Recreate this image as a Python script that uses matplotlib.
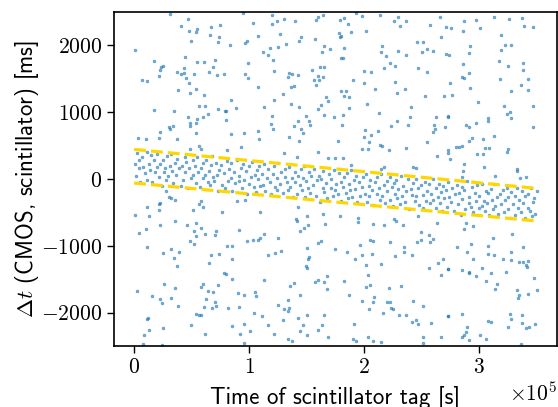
import matplotlib
matplotlib.use("Agg")
import matplotlib.pyplot as plt
from matplotlib.ticker import MultipleLocator
import numpy as np

plt.rcParams['font.family'] = 'serif'
plt.rcParams['font.serif'] = ['cmr10']
plt.rcParams['mathtext.fontset'] = 'cm'
plt.rcParams['axes.formatter.use_mathtext'] = True
plt.rcParams['font.size'] = 15.5

# time of scintillator tag in units of 1000 s, delta t in ms
# background (uncorrelated) tags, read region by region
bg1_t = [31.4, 46.7, 40.6, 54.6, 47.3, 53.7, 66.8, 75.0, 65.9, 73.8, 72.9, 49.1, 0.5, 44.1, 17.1, 24.9,
         23.2, 22.3, 21.5, 54.6, 61.0, 70.3, 68.3, 43.3, 37.5, 40.4, 43.3, 52.0, 65.0, 72.0, 78.1, 44.7,
         47.6, 7.2, 11.0, 38.4, 48.8, 53.7, 61.0, 56.3, 61.5, 72.9, 79.0, 17.7, 34.5, 46.5, 54.9, 60.2,
         64.5, 53.4, 48.5, 48.5, 33.4, 29.9, 30.8, 22.7, 53.4, 3.5, 10.1, 21.5, 37.5, 56.1, 58.1, 48.5]
bg1_dt = [2470, 2395, 2290, 2250, 2210, 2200, 2280, 2300, 2160, 2120, 2050, 2070, 1930, 1826, 1771, 1696,
          1671, 1632, 1546, 1746, 1756, 1776, 1681, 1666, 1596, 1572, 1587, 1572, 1602, 1557, 1566, 1516,
          1431, 1486, 1467, 1337, 1292, 1347, 1257, 1097, 1097, 1048, 1022, 1033, 1018, 928, 898, 928,
          967, 843, 838, 793, 793, 778, 743, 698, 683, 614, 593, 614, 599, 488, 449, 449]

bg2_t = [94.7, 120.0, 129.9, 124.3, 119.7, 140.0, 102.9, 160.1, 164.4, 158.3, 108.1, 126.7, 144.7, 143.0,
         157.4, 96.2, 98.2, 83.7, 118.2, 125.2, 132.2, 164.8, 111.6, 116.5, 163.3, 170.5, 120.6, 99.0,
         161.3, 165.0, 154.8, 121.2, 134.5, 137.4, 133.6, 142.6, 159.8, 96.8, 99.4, 160.9, 156.1, 163.9,
         136.3, 138.9, 158.3, 108.1, 129.6, 166.8, 168.5, 84.6, 121.7, 88.6, 112.5, 136.5, 143.0, 162.7,
         160.1, 79.6, 165.0, 120.0, 174.0, 149.6, 79.9, 142.6, 152.0, 152.8, 118.8, 120.6, 138.6, 144.7,
         146.7, 108.1, 84.6, 95.5, 108.6, 134.8, 143.0, 160.1, 92.9, 129.9, 141.8, 168.8, 174.4, 80.7]
bg2_dt = [2485, 2449, 2395, 2370, 2314, 2370, 2340, 2419, 2455, 2385, 2141, 2171, 2130, 2066,
          2096, 2036, 2060, 2000, 1955, 1970, 2021, 1991, 1901, 1856, 1901, 1946, 1781, 1731,
          1681, 1681, 1632, 1621, 1581, 1576, 1531, 1561, 1542, 1576, 1506, 1482, 1482, 1531,
          1377, 1386, 1407, 1377, 1272, 1222, 1172, 1177, 1183, 1057, 1078, 1123, 1078, 1112,
          1042, 1022, 958, 948, 928, 943, 877, 868, 868, 802, 817, 743, 787, 753,
          693, 713, 674, 683, 593, 629, 563, 404, 484, 389, 329, 308, 308, 434]

bg3_t = [182.7, 179.0, 192.9, 198.4, 213.9, 229.5, 226.3, 231.0, 236.3, 265.6, 256.8, 271.1, 186.0, 188.8,
         201.9, 177.8, 179.9, 179.0, 266.8, 245.5, 250.7, 215.6, 182.5, 254.2, 250.5, 259.4, 229.3, 215.0,
         236.3, 219.3, 270.8, 180.1, 181.9, 222.3, 227.2, 217.3, 246.4, 254.2, 200.2, 206.3, 190.6, 199.9,
         227.2, 209.5, 235.9, 179.9, 183.9, 228.1, 182.5, 186.8, 252.5, 269.0, 202.8, 187.1, 241.1, 212.7,
         181.9, 240.0, 262.7, 228.9, 181.0, 237.7, 223.7, 260.9, 272.5, 270.5, 261.2, 259.4, 201.0, 211.8,
         206.3, 200.2, 177.5, 214.1, 215.6, 204.5, 254.2, 197.9, 203.4, 221.4, 236.3, 272.5, 181.9, 262.9,
         188.8, 217.3, 214.5, 242.0, 245.2]
bg3_dt = [2415, 2380, 2489, 2440, 2449, 2419, 2365, 2290, 2365, 2425, 2305, 2280, 2320, 2200,
          2215, 2180, 2145, 2126, 2120, 2051, 2051, 1991, 1966, 1940, 1901, 1916, 1921, 1906,
          1861, 1835, 1871, 1811, 1811, 1741, 1696, 1662, 1656, 1596, 1611, 1602, 1482, 1437,
          1446, 1341, 1347, 1322, 1322, 1281, 1237, 1227, 1242, 1237, 1123, 1057, 1078, 982,
          958, 922, 928, 873, 802, 808, 787, 808, 933, 772, 753, 703, 733, 713,
          659, 623, 569, 509, 488, 554, 554, 454, 449, 434, 464, 428, 308, 338,
          204, 180, 150, 174, 170]

bg4_t = [286.5, 296.9, 313.2, 326.1, 337.4, 275.1, 285.6, 300.4, 338.8, 346.6, 319.3, 291.7, 322.0, 327.2,
         318.7, 291.4, 273.7, 285.6, 317.3, 325.4, 338.3, 337.9, 290.8, 284.7, 286.5, 318.2, 342.6, 335.9,
         274.3, 291.7, 327.4, 342.0, 276.0, 298.7, 321.7, 346.4, 326.9, 324.3, 327.2, 308.0, 308.0, 273.1,
         296.9, 288.8, 291.2, 346.6, 313.2, 293.5, 291.2, 303.6, 285.3, 280.1, 282.7, 305.4, 308.9, 324.8,
         324.0, 298.2, 303.4, 274.9, 273.1, 287.1, 304.3, 333.0, 332.7, 286.2, 285.3, 313.5, 340.3, 335.6]
bg4_dt = [2360, 2380, 2430, 2395, 2415, 2265, 2215, 2255, 2290, 2275, 2156, 1991, 2006, 2006,
          1931, 1891, 1856, 1716, 1766, 1692, 1737, 1632, 1587, 1521, 1512, 1491, 1497, 1407,
          1442, 1367, 1317, 1327, 1262, 1153, 1093, 1087, 1003, 978, 913, 918, 873, 943,
          838, 808, 778, 778, 644, 608, 569, 599, 499, 473, 479, 469, 464, 444,
          409, 374, 374, 294, 394, 219, 184, 150, 120, 120, 35, 40, 30, 20]

bg5_t = [27.6, 29.9, 32.3, 35.1, 21.8, 22.3, 11.0, 21.5, 0.5, 13.1, 35.4, 22.7, 10.1, 4.4, 11.0, 24.9,
         31.9, 38.6, 34.9, 37.7, 51.4, 58.4, 56.3, 59.8, 53.7, 45.6, 57.8, 52.0, 61.5, 53.7, 70.9, 70.6,
         48.2, 52.0, 76.4, 66.8, 73.8, 65.0, 78.5, 26.2, 2.9, 15.3, 35.4, 22.7, 24.1, 31.9, 38.0, 58.1,
         59.8, 63.9, 68.5, 72.6, 62.2, 70.6, 71.1, 60.7, 67.7, 53.7, 56.1, 58.1, 11.0, 11.9, 49.3, 25.3,
         12.7, 8.4, 61.5, 8.1, 24.4]
bg5_dt = [-180, -270, -284, -310, -370, -355, -419, -470, -545, -549, -635, -684, -749, -804, -1024, -1108,
          -1043, -1099, -1183, -1298, -470, -329, -370, -425, -659, -695, -734, -784, -823, -859, -784, -844,
          -934, -979, -494, -1138, -1123, -1263, -1407, -1578, -1672, -1751, -1632, -1802, -1856, -1781, -1897, -1617,
          -1578, -1683, -1698, -1593, -1796, -1841, -1897, -1916, -1937, -2021, -2036, -2031, -2102, -2081, -2186, -2226,
          -2260, -2335, -2320, -2476, -2485]

bg6_t = [89.8, 96.2, 109.0, 142.1, 140.6, 141.8, 144.4, 147.6, 151.3, 150.2, 164.4, 166.2, 91.2, 113.0,
         109.5, 107.8, 103.4, 98.2, 125.5, 162.7, 160.1, 80.7, 85.4, 150.0, 174.9, 127.8, 122.6, 116.5,
         152.0, 151.3, 85.1, 149.6, 150.0, 79.6, 85.4, 113.0, 159.8, 156.9, 164.8, 167.6, 167.6, 139.1,
         135.7, 90.3, 95.3, 105.1, 106.0, 144.4, 133.4, 125.5, 130.4, 134.5, 133.6, 81.6, 90.9, 104.3,
         111.2, 142.6, 150.0, 164.8, 129.3, 95.5, 85.1, 116.5, 147.0, 163.5, 160.1, 100.8, 91.8, 144.4,
         150.0, 168.3, 121.4, 133.9, 137.4, 95.5]
bg6_dt = [-329, -320, -494, -419, -594, -635, -779, -734, -684, -554, -519, -674, -759, -819,
          -883, -913, -913, -924, -889, -924, -958, -1003, -1009, -1033, -1048, -1073, -1103, -1144,
          -1163, -1198, -1198, -1302, -1332, -1418, -1503, -1512, -1512, -1548, -1548, -1642, -1452, -1563,
          -1602, -1707, -1737, -1692, -1757, -1742, -1811, -1886, -1946, -1931, -1976, -1931, -1912, -2006,
          -2051, -2076, -2031, -2042, -2111, -2171, -2201, -2181, -2181, -2186, -2256, -2271, -2320, -2281,
          -2335, -2361, -2320, -2401, -2425, -2461]

bg7_t = [179.2, 194.4, 194.4, 207.5, 217.1, 226.1, 227.5, 233.3, 246.7, 262.9, 249.6, 256.0, 259.4, 246.1,
         249.3, 256.8, 205.1, 208.0, 222.8, 196.2, 185.3, 192.3, 198.2, 207.1, 227.2, 234.2, 234.2, 241.5,
         268.5, 263.8, 272.9, 214.5, 201.9, 256.0, 266.4, 182.7, 203.4, 205.4, 201.9, 221.7, 232.4, 187.1,
         208.4, 198.2, 207.5, 219.7, 222.6, 242.0, 251.1, 223.4, 224.9, 204.5, 216.2, 230.2, 236.5, 241.5,
         245.0, 247.2, 257.7, 191.4, 272.5, 250.7, 266.4, 203.1, 190.6, 192.9, 208.0, 214.7, 251.3]
bg7_dt = [-549, -584, -644, -674, -684, -605, -635, -695, -554, -659, -799, -844, -894, -939,
          -909, -943, -919, -928, -943, -984, -1099, -1198, -1144, -1123, -1148, -1013, -1099, -1138,
          -1198, -1253, -1347, -1272, -1293, -1332, -1433, -1533, -1443, -1582, -1617, -1632, -1608, -1737,
          -1762, -1822, -1837, -1847, -1847, -1832, -1897, -1937, -1946, -1946, -2012, -2042, -2042, -2141,
          -2106, -2177, -2162, -2177, -2057, -2365, -2365, -2361, -2391, -2421, -2431, -2440, -2451]

bg8_t = [288.6, 294.3, 286.5, 312.1, 328.3, 280.4, 293.2, 307.4, 337.9, 289.1, 308.0, 312.6, 327.4, 294.7,
         320.5, 327.4, 334.4, 337.9, 342.3, 340.5, 341.1, 273.1, 284.7, 290.8, 291.2, 302.5, 309.8, 323.7,
         296.9, 347.2, 305.7, 315.6, 313.8, 333.0, 350.1, 334.8, 342.0, 333.9, 273.1, 285.1, 308.0, 310.4,
         326.9, 327.2, 337.0, 337.0, 348.4, 325.4, 289.1, 340.3, 342.9, 288.8, 287.1, 285.1, 300.4, 305.7,
         291.2, 336.5]
bg8_dt = [-659, -710, -754, -889, -823, -1024, -973, -1009, -1018, -1088, -1129, -1133, -1088, -1198,
          -1193, -1213, -1243, -1243, -1223, -1283, -1317, -1343, -1358, -1392, -1413, -1332, -1407, -1388,
          -1452, -1478, -1527, -1572, -1647, -1657, -1657, -1737, -1722, -1777, -2057, -2021, -2126, -2147,
          -2027, -2091, -2042, -2162, -2166, -2211, -2222, -2237, -2222, -2286, -2331, -2365, -2335, -2395,
          -2410, -2476]

# correlated tags inside the drifting band
band1_t = [0.4, 1.7, 2.3, 3.9, 4.6, 5.2, 6.8, 7.5, 9.1,
           10.9, 11.3, 12.8, 13.4, 15.0, 15.9, 17.1, 18.3, 19.6,
           20.2, 22.0, 22.6, 24.1, 24.8, 26.3, 26.9, 28.0, 28.7, 29.8,
           31.1, 31.9, 33.0, 33.7, 35.5, 36.1, 37.7, 38.9,
           40.4, 41.7, 42.3, 43.9, 44.6, 45.2, 46.8, 47.5, 49.1,
           50.9, 51.3, 52.8, 53.4, 55.0, 55.9, 57.1, 58.3, 59.6,
           60.2, 62.0, 62.6, 64.1, 64.8, 66.3, 66.9, 68.0, 68.7, 69.8,
           71.1, 71.9, 73.0, 73.7, 75.5, 76.1, 77.7, 78.9,
           80.4, 81.7, 82.3, 83.9, 84.6, 85.2, 86.8, 87.5, 89.1,
           90.9, 91.3, 92.8, 93.4, 95.0, 95.9, 97.1, 98.3, 99.6,
           100.2, 102.0, 102.6, 104.1, 104.8, 106.3, 106.9, 108.0, 108.7, 109.8,
           111.1, 111.9, 113.0, 113.7, 115.5, 116.1, 117.7, 118.9]
band1_dt = [219, 40, 390, 167, 278, -49, 336, 185, 94,
            406, -11, 227, 136, 352, -40, 283, 104, 177,
            375, 30, 224, -99, 288, 105, 168, -14, 350, 52,
            191, 380, 121, -56, 238, 63, 296, 161,
            -103, 200, -19, 331, 110, 248, -137, 163, 15,
            279, 62, 190, -60, 336, 110, -114, 171, 18,
            234, 58, 282, -45, 116, -95, 203, 338, 26, -27,
            237, 60, -173, 133, 210, -83, 91, -129,
            263, -23, 150, 18, 234, -179, 102, -66, 281,
            40, -32, 161, -137, 228, -13, 115, -223, 192,
            -75, 33, 256, -123, 61, -188, 128, 0, 190, -106,
            70, -83, 222, -182, 9, 148, -51, -226]

band2_t = [120.4, 121.7, 122.3, 123.9, 124.6, 125.2, 126.8, 127.5, 129.1,
           130.9, 131.3, 132.8, 133.4, 135.0, 135.9, 137.1, 138.3, 139.6,
           140.2, 142.0, 142.6, 144.1, 144.8, 146.3, 146.9, 148.0, 148.7, 149.8,
           151.1, 151.9, 153.0, 153.7, 155.5, 156.1, 157.7, 158.9,
           160.4, 161.7, 162.3, 163.9, 164.6, 165.2, 166.8, 167.5, 169.1,
           170.9, 171.3, 172.8, 173.4, 175.0, 175.9, 177.1, 178.3, 179.6,
           180.2, 182.0, 182.6, 184.1, 184.8, 186.3, 186.9, 188.0, 188.7, 189.8,
           191.1, 191.9, 193.0, 193.7, 195.5, 196.1, 197.7, 198.9,
           200.4, 201.7, 202.3, 203.9, 204.6, 205.2, 206.8, 207.5, 209.1,
           210.9, 211.3, 212.8, 213.4, 215.0, 215.9, 217.1, 218.3, 219.6,
           220.2, 222.0, 222.6, 224.1, 224.8, 226.3, 226.9, 228.0, 228.7, 229.8,
           231.1, 231.9, 233.0, 233.7, 235.5, 236.1, 237.7, 238.9]
band2_dt = [77, 187, -123, 16, -170, 236, -78, 101, -211,
            24, 143, -42, -168, 179, -121, 8, -276, 104,
            -46, -218, 39, -89, 142, -161, 12, 196, -269, -30,
            -141, 102, -209, 39, -94, 155, -250, -16,
            45, -340, -3, -138, 116, -200, -66, -282, 76,
            -133, 0, -262, 135, -169, -70, -228, 85, -331,
            -49, -122, 27, -212, 95, -287, -77, -168, 137, -263,
            -18, -152, 47, -341, -47, -257, -126, 30,
            -225, 78, -338, -101, -252, -9, -160, -389, -45,
            27, -230, -141, -320, 81, -249, -89, -361, -32,
            -182, 26, -313, -123, -403, -61, -227, -11, -282, -150,
            -376, 39, -256, -104, -341, -184, 3, -445]

band3_t = [240.4, 241.7, 242.3, 243.9, 244.6, 245.2, 246.8, 247.5, 249.1,
           250.9, 251.3, 252.8, 253.4, 255.0, 255.9, 257.1, 258.3, 259.6,
           260.2, 262.0, 262.6, 264.1, 264.8, 266.3, 266.9, 268.0, 268.7, 269.8,
           271.1, 271.9, 273.0, 273.7, 275.5, 276.1, 277.7, 278.9,
           280.4, 281.7, 282.3, 283.9, 284.6, 285.2, 286.8, 287.5, 289.1,
           290.9, 291.3, 292.8, 293.4, 295.0, 295.9, 297.1, 298.3, 299.6,
           300.2, 302.0, 302.6, 304.1, 304.8, 306.3, 306.9, 308.0, 308.7, 309.8,
           311.1, 311.9, 313.0, 313.7, 315.5, 316.1, 317.7, 318.9,
           320.4, 321.7, 322.3, 323.9, 324.6, 325.2, 326.8, 327.5, 329.1,
           330.9, 331.3, 332.8, 333.4, 335.0, 335.9, 337.1, 338.3, 339.6,
           340.2, 342.0, 342.6, 344.1, 344.8, 346.3, 346.9, 348.0, 348.7, 349.8]
band3_dt = [-145, -236, -63, -328, 3, -251, -132, -384, -90,
            -233, -436, -43, -323, -186, -68, -367, -221, 0,
            -319, -434, -138, -272, -71, -362, -191, -481, -102, -289,
            -168, -424, -44, -273, -346, -132, -476, -227,
            -86, -379, -207, -532, -124, -297, -163, -455, -37,
            -358, -277, -420, -118, -491, -209, -329, -91, -442,
            -261, -402, -81, -326, -479, -179, -366, -216, -540, -145,
            -317, -449, -80, -407, -268, -519, -218, -368,
            -162, -496, -317, -130, -452, -269, -590, -199, -370,
            -260, -543, -137, -428, -318, -495, -181, -361, -577,
            -257, -436, -224, -473, -139, -552, -345, -288, -519, -180]

# dashed band edges
edge_t = [0, 350]
edge_upper = [443, -141]
edge_lower = [-60, -629]

t = np.concatenate([bg1_t, bg2_t, bg3_t, bg4_t, bg5_t, bg6_t, bg7_t, bg8_t,
                    band1_t, band2_t, band3_t]) * 1e3
dt = np.concatenate([bg1_dt, bg2_dt, bg3_dt, bg4_dt, bg5_dt, bg6_dt, bg7_dt, bg8_dt,
                     band1_dt, band2_dt, band3_dt])

fig = plt.figure(figsize=(5.58, 4.07), dpi=100)
ax = fig.add_axes([0.2043, 0.150, 0.7937, 0.8205])

ax.scatter(t, dt, s=4, color='C0', alpha=0.6, linewidths=0.5, zorder=2)
ax.plot(np.array(edge_t) * 1e3, edge_upper, '--', color='gold', lw=2.3, zorder=3)
ax.plot(np.array(edge_t) * 1e3, edge_lower, '--', color='gold', lw=2.3, zorder=3)

ax.set_xlim(-0.175e5, 3.675e5)
ax.set_ylim(-2500, 2500)
ax.xaxis.set_major_locator(MultipleLocator(1e5))
ax.yaxis.set_major_locator(MultipleLocator(1000))
ax.ticklabel_format(axis='x', style='sci', scilimits=(0, 0), useMathText=True)
ax.tick_params(direction='out', length=5, width=1, top=False, right=False)
for sp in ax.spines.values():
    sp.set_linewidth(1.2)

ax.set_xlabel('Time of scintillator tag [s]', fontfamily='cmss10', fontsize=16.5, labelpad=6)
ax.set_ylabel(r'$\Delta t$ (CMOS, scintillator) [ms]', fontfamily='cmss10', fontsize=16.5, labelpad=0)

fig.savefig('out.png', dpi=100)
